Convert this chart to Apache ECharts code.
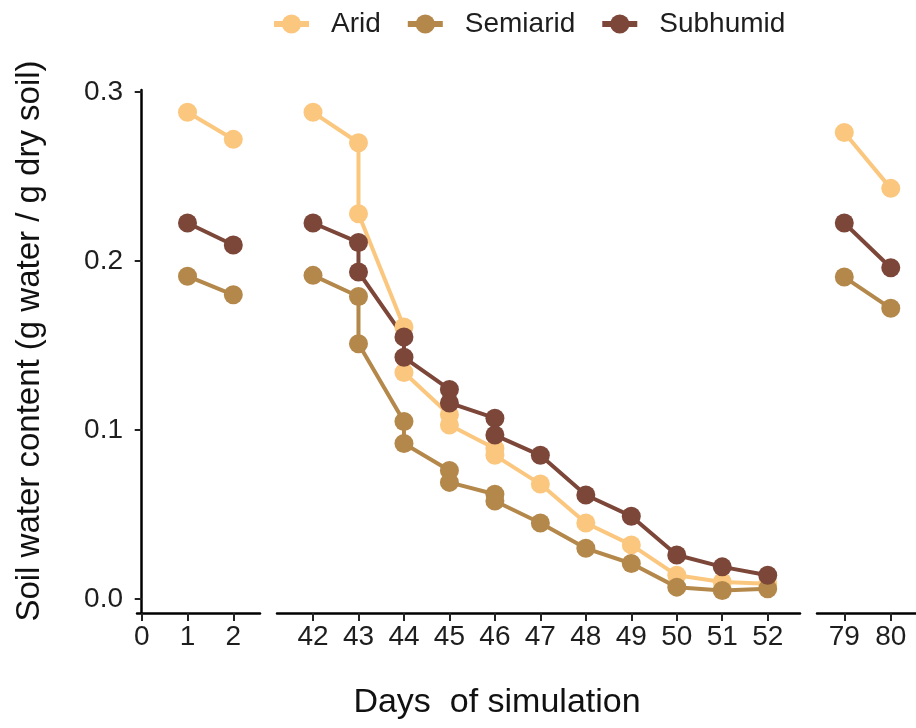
<!DOCTYPE html>
<html><head><meta charset="utf-8">
<script src="https://cdn.jsdelivr.net/npm/echarts@6/dist/echarts.min.js"></script>
<style>html,body{margin:0;padding:0;background:#fff}#c{width:916px;height:728px}</style>
</head><body><div id="c"></div>
<script>
// ---- data ----
const groups = ['Arid', 'Semiarid', 'Subhumid'];
const days = [1, 2, 42, 43, 43, 44, 44, 45, 45, 46, 46, 47, 48, 49, 50, 51, 52, 79, 80];
const aridValues     = [0.288, 0.272, 0.288, 0.270, 0.228, 0.161, 0.134, 0.109, 0.103, 0.089, 0.085, 0.068, 0.045, 0.032, 0.014, 0.010, 0.009, 0.276, 0.243];
const semiaridValues = [0.191, 0.180, 0.1915, 0.179, 0.151, 0.105, 0.092, 0.076, 0.069, 0.062, 0.058, 0.045, 0.030, 0.021, 0.007, 0.005, 0.006, 0.1905, 0.172];
const subhumidValues = [0.2225, 0.2095, 0.2225, 0.211, 0.1935, 0.155, 0.143, 0.124, 0.116, 0.107, 0.097, 0.085, 0.0615, 0.049, 0.026, 0.019, 0.014, 0.2225, 0.196];
const panel1Ticks = [0, 1, 2];
const panel2Ticks = [42, 43, 44, 45, 46, 47, 48, 49, 50, 51, 52];
const panel3Ticks = [79, 80];
const yTicks = [0, 0.1, 0.2, 0.3];

// ---- styling / layout ----
const colors = ['#FBC77F', '#B4884A', '#7C4639'];
const groupValues = [aridValues, semiaridValues, subhumidValues];
const panels = [
  { ticks: panel1Ticks, min: -0.103, max: 2.583, left: 137, width: 123 },
  { ticks: panel2Ticks, min: 41.208, max: 52.71, left: 277, width: 523 },
  { ticks: panel3Ticks, min: 78.413, max: 80.543, left: 817, width: 99 }
];
const yMin = -0.0083, yMax = 0.3012;
const gridTop = 90, gridHeight = 523;
const font = 'Liberation Sans, Arial, Helvetica, sans-serif';

const grid = panels.map(p => ({ left: p.left, top: gridTop, width: p.width, height: gridHeight }));
const xAxis = panels.map((p, i) => ({
  type: 'value', gridIndex: i, min: p.min, max: p.max,
  axisLine: { show: true, onZero: false, lineStyle: { color: '#000', width: 2.5 } },
  axisTick: { show: true, length: 8, customValues: p.ticks, lineStyle: { color: '#222', width: 2 } },
  axisLabel: { show: true, customValues: p.ticks, margin: 10, fontSize: 28, color: '#1e1e1e', fontFamily: font },
  splitLine: { show: false }
}));
const yAxis = panels.map((p, i) => ({
  type: 'value', gridIndex: i, min: yMin, max: yMax, show: i === 0,
  axisLine: { show: true, lineStyle: { color: '#000', width: 2.5 } },
  axisTick: { show: true, length: 7, customValues: yTicks, lineStyle: { color: '#222', width: 2 } },
  axisLabel: { show: true, customValues: yTicks, margin: 14, fontSize: 28, color: '#1e1e1e', fontFamily: font,
    formatter: v => v.toFixed(1) },
  splitLine: { show: false }
}));

function panelPoints(p, gi) {
  const pts = [];
  days.forEach((d, k) => { if (d >= p.min && d <= p.max) pts.push([d, groupValues[gi][k]]); });
  return pts;
}

const series = [];
panels.forEach((p, pi) => {
  groups.forEach((g, gi) => {
    series.push({
      type: 'line', name: g, xAxisIndex: pi, yAxisIndex: pi, data: panelPoints(p, gi),
      showSymbol: false, symbol: 'circle', symbolSize: 18, z: 2,
      lineStyle: { color: colors[gi], width: 4 }, itemStyle: { color: colors[gi] },
      animation: false, silent: true
    });
  });
});
panels.forEach((p, pi) => {
  groups.forEach((g, gi) => {
    series.push({
      type: 'scatter', name: g, xAxisIndex: pi, yAxisIndex: pi, data: panelPoints(p, gi),
      symbol: 'circle', symbolSize: 19, z: 3,
      itemStyle: { color: colors[gi], opacity: 1 },
      animation: false, silent: true
    });
  });
});

const chart = echarts.init(document.getElementById('c'), null, { renderer: 'canvas' });
chart.setOption({
  backgroundColor: '#fff',
  animation: false,
  legend: {
    data: groups, left: 266, top: 5, itemWidth: 35, itemHeight: 24, itemGap: 24,
    lineStyle: { width: 6 },
    textStyle: { fontSize: 28, color: '#1e1e1e', fontFamily: font, padding: [0, 0, 0, 17] }
  },
  grid: grid, xAxis: xAxis, yAxis: yAxis, series: series,
  graphic: [
    { type: 'text', x: 497, y: 703, style: { text: 'Days  of simulation', font: '34px ' + font, fill: '#111', textAlign: 'center', textVerticalAlign: 'middle' } },
    { type: 'text', x: 30, y: 341, rotation: Math.PI / 2, style: { text: 'Soil water content (g water / g dry soil)', font: '33px ' + font, fill: '#111', textAlign: 'center', textVerticalAlign: 'middle' } }
  ]
});
</script></body></html>
